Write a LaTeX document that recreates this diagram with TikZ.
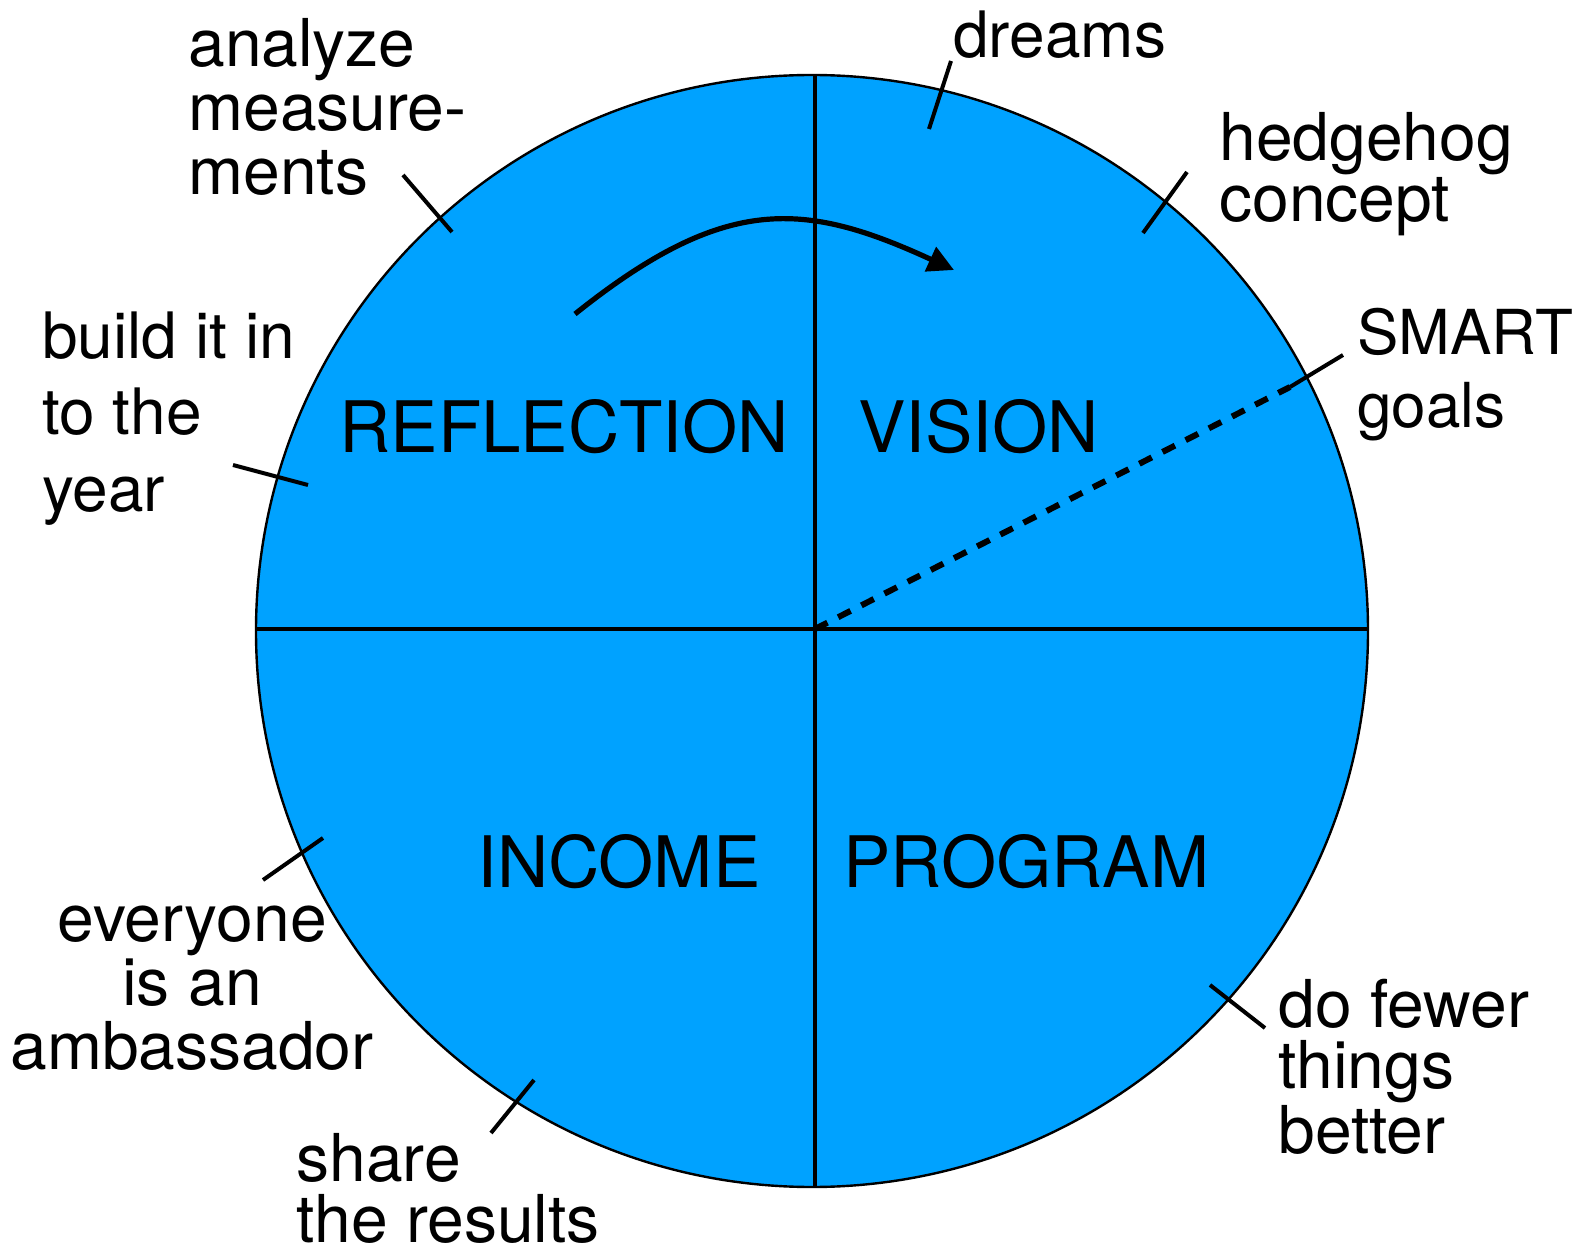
\documentclass[tikz,border=0pt]{standalone}
\usepackage{fontspec}
\setmainfont{TeX Gyre Heros}
\usetikzlibrary{arrows.meta}
\definecolor{wheelblue}{RGB}{0,162,255}

\begin{document}
\begin{tikzpicture}[x=0.5pt,y=-0.5pt,
  lbl/.style={inner sep=0pt,anchor=base west,align=left,font=\fontsize{33pt}{#1}\selectfont},
  lbl/.default=30.5pt,
  quad/.style={inner sep=0pt,anchor=base west,font=\fontsize{35.5pt}{40pt}\selectfont},
  tick/.style={line width=2pt},
  axis/.style={line width=2pt}]
\useasboundingbox (0,0) rectangle (1586,1251);
% the wheel
\coordinate (hub) at (815,629);
\coordinate (top) at (815,74);
\coordinate (bottom) at (815,1188);
\coordinate (west) at (256,629);
\coordinate (east) at (1368,629);
\draw[line width=1.2pt,fill=wheelblue] (812,631) circle [radius=278pt];
\draw[axis] (top) -- (bottom);
\draw[axis] (west) -- (east);
% goals spoke
\coordinate (smart in) at (1290,387);
\coordinate (smart out) at (1343,355);
\draw[line width=3pt,dash pattern=on 7pt off 6pt] (hub) -- (smart in);
\draw[tick] (smart in) -- (smart out);
% turning arrow
\coordinate (turn start) at (575,314);
\coordinate (turn end) at (954,270);
\draw[line width=2.6pt,-{Triangle[length=13pt,width=13pt]}] (turn start) .. controls (725,194) and (804,201) .. (turn end);
% quarters
\node (reflection) at (339,453) [quad] {REFLECTION};
\node (vision) at (858,453) [quad] {VISION};
\node (income) at (477,887) [quad] {INCOME};
\node (program) at (843,887) [quad] {PROGRAM};
% outer labels (placed by the baseline of their last line)
\node (analyze) at (188,195) [lbl=32pt] {analyze\\measure-\\ments};
\node (build) at (42,512) [lbl,font=\fontsize{32pt}{38.5pt}\selectfont] {build it in\\to the\\year};
\node (dreams) at (953,58) [lbl,font=\fontsize{32pt}{32pt}\selectfont] {dreams};
\node (hedgehog) at (1219,222) [lbl] {hedgehog\\concept};
\node (smart) at (1357,428) [lbl,font=\fontsize{31pt}{36.5pt}\selectfont] {SMART\\goals};
\node (fewer) at (1278,1153) [lbl=30.3pt] {do fewer\\things\\better};
\node (share) at (296,1242) [lbl] {share\\the results};
\node (ambassador) at (192,1069) [lbl=31.8pt,anchor=base,align=center] {everyone\\is an\\ambassador};
% ticks
\coordinate (analyze out) at (403,175);
\coordinate (analyze in) at (452,232);
\coordinate (build out) at (233,465);
\coordinate (build in) at (308,485);
\coordinate (ambassador out) at (263,880);
\coordinate (ambassador in) at (323,838);
\coordinate (share out) at (491,1133);
\coordinate (share in) at (534,1080);
\coordinate (fewer in) at (1210,985);
\coordinate (fewer out) at (1265,1028);
\coordinate (dreams out) at (951,61);
\coordinate (dreams in) at (929,129);
\coordinate (hedgehog out) at (1187,172);
\coordinate (hedgehog in) at (1143,233);
\draw[tick] (analyze out) -- (analyze in);
\draw[tick] (build out) -- (build in);
\draw[tick] (ambassador out) -- (ambassador in);
\draw[tick] (share out) -- (share in);
\draw[tick] (fewer in) -- (fewer out);
\draw[tick] (dreams out) -- (dreams in);
\draw[tick] (hedgehog out) -- (hedgehog in);
\end{tikzpicture}
\end{document}
